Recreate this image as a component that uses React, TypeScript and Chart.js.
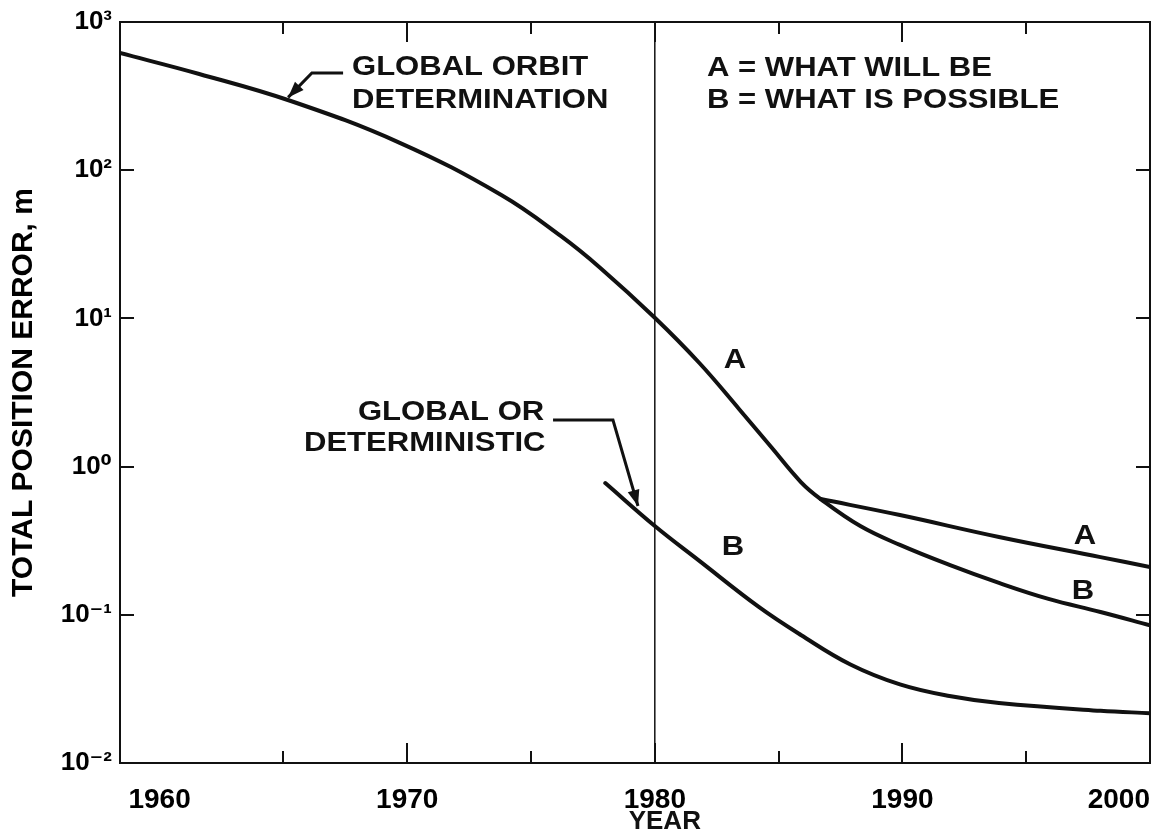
import React, { useEffect, useRef } from 'react';
import { Chart, registerables } from 'chart.js';

Chart.register(...registerables);

// ---- data ----
const yearMin = 1958.4;
const yearMax = 2000;
const xTickYears = [1960, 1965, 1970, 1975, 1980, 1985, 1990, 1995, 2000];
const xLabelYears = [1960, 1970, 1980, 1990, 2000];
const yTickValues = [0.01, 0.1, 1, 10, 100, 1000];
const yTickLabels = ['10⁻²', '10⁻¹', '10⁰', '10¹', '10²', '10³'];

// Global orbit determination (continues as curve B after the split)
const orbitYears = [1958.4, 1961.6, 1965.3, 1969.7, 1973.8, 1976.2, 1977.8, 1980, 1981.8, 1983.4, 1984.7, 1985.9, 1986.7, 1988.3, 1989.9, 1991.9, 1993.9, 1995.9, 1998, 2000];
const orbitValues = [618, 446, 293, 153, 68, 36, 21.9, 10.1, 5.0, 2.45, 1.355, 0.787, 0.604, 0.397, 0.296, 0.217, 0.164, 0.128, 0.1045, 0.085];
// Branch A (what will be)
const orbitAYears = [1986.7, 1989.9, 1993.9, 1998, 2000];
const orbitAValues = [0.604, 0.471, 0.335, 0.245, 0.21];
// Global or deterministic (B)
const detYears = [1978, 1980, 1981.8, 1984.2, 1985.9, 1987.9, 1989.9, 1991.9, 1993.9, 1998, 2000];
const detValues = [0.774, 0.397, 0.231, 0.113, 0.0731, 0.0462, 0.0339, 0.0283, 0.0254, 0.0225, 0.0217];
const markerYear = 1980;

const FONT = "'Liberation Sans', Arial, 'DejaVu Sans', sans-serif";
const INK = '#111';

const toPoints = (xs: number[], ys: number[]) => xs.map((x, i) => ({ x, y: ys[i] }));

const annotationTexts = [
  { text: 'GLOBAL ORBIT', x: 1967.77, y: 490, align: 'left' },
  { text: 'DETERMINATION', x: 1967.77, y: 293, align: 'left' },
  { text: 'A = WHAT WILL BE', x: 1982.11, y: 482, align: 'left' },
  { text: 'B = WHAT IS POSSIBLE', x: 1982.11, y: 293, align: 'left' },
  { text: 'GLOBAL OR', x: 1968.01, y: 2.33, align: 'left' },
  { text: 'DETERMINISTIC', x: 1965.83, y: 1.42, align: 'left' },
  { text: 'A', x: 1983.24, y: 5.2, align: 'center' },
  { text: 'B', x: 1983.16, y: 0.283, align: 'center' },
  { text: 'A', x: 1997.37, y: 0.335, align: 'center' },
  { text: 'B', x: 1997.29, y: 0.1426, align: 'center' },
];

const leaders = [
  [{ x: 1967.41, y: 453 }, { x: 1966.15, y: 453 }, { x: 1965.19, y: 310 }],
  [{ x: 1975.89, y: 2.06 }, { x: 1978.31, y: 2.06 }, { x: 1979.32, y: 0.542 }],
];

const framePlugin = {
  id: 'frame',
  afterDatasetsDraw(chart: any) {
    const { ctx, chartArea, scales } = chart;
    const { left, right, top, bottom } = chartArea;
    const xs = scales.x;
    const ys = scales.y;
    ctx.save();
    ctx.strokeStyle = INK;
    ctx.lineWidth = 2;
    ctx.strokeRect(left, top, right - left, bottom - top);
    ctx.beginPath();
    for (const yr of xTickYears) {
      if (yr === xTickYears[0] || yr === yearMax) continue;
      const px = Math.round(xs.getPixelForValue(yr));
      const len = yr % 10 === 0 ? 20 : 12;
      ctx.moveTo(px, bottom);
      ctx.lineTo(px, bottom - len);
      ctx.moveTo(px, top);
      ctx.lineTo(px, top + len);
    }
    for (const v of yTickValues.slice(1, -1)) {
      const py = Math.round(ys.getPixelForValue(v));
      ctx.moveTo(left, py);
      ctx.lineTo(left + 14, py);
      ctx.moveTo(right, py);
      ctx.lineTo(right - 14, py);
    }
    ctx.stroke();

    // leader arrows
    ctx.lineWidth = 3;
    ctx.fillStyle = INK;
    for (const pts of leaders) {
      const p = pts.map((q) => ({ x: xs.getPixelForValue(q.x), y: ys.getPixelForValue(q.y) }));
      ctx.beginPath();
      ctx.moveTo(p[0].x, p[0].y);
      for (let i = 1; i < p.length; i++) ctx.lineTo(p[i].x, p[i].y);
      ctx.stroke();
      const a = p[p.length - 2];
      const b = p[p.length - 1];
      const ang = Math.atan2(b.y - a.y, b.x - a.x);
      const L = 16;
      const W = 6;
      ctx.beginPath();
      ctx.moveTo(b.x, b.y);
      ctx.lineTo(b.x - L * Math.cos(ang) + W * Math.sin(ang), b.y - L * Math.sin(ang) - W * Math.cos(ang));
      ctx.lineTo(b.x - L * Math.cos(ang) - W * Math.sin(ang), b.y - L * Math.sin(ang) + W * Math.cos(ang));
      ctx.closePath();
      ctx.fill();
    }

    // text annotations
    ctx.font = `bold 27px ${FONT}`;
    ctx.textBaseline = 'middle';
    for (const t of annotationTexts) {
      const px = xs.getPixelForValue(t.x);
      const py = ys.getPixelForValue(t.y);
      ctx.save();
      ctx.translate(px, py);
      ctx.scale(1.15, 1);
      ctx.textAlign = t.align as CanvasTextAlign;
      ctx.fillText(t.text, 0, 0);
      ctx.restore();
    }

    // x axis title, centred under the 1980 label as in the original
    ctx.font = `bold 26px ${FONT}`;
    ctx.textAlign = 'center';
    ctx.textBaseline = 'middle';
    ctx.fillText('YEAR', xs.getPixelForValue(markerYear) + 10, bottom + 59);
    ctx.restore();
  },
};

export default function App() {
  const canvasRef = useRef<HTMLCanvasElement | null>(null);

  useEffect(() => {
    const canvas = canvasRef.current;
    if (!canvas) return;
    const lineStyle = {
      borderColor: INK,
      borderWidth: 4,
      pointRadius: 0,
      fill: false,
      tension: 0.4,
      borderCapStyle: 'round' as const,
    };
    const chart = new Chart(canvas, {
      type: 'line',
      data: {
        datasets: [
          { label: 'Global orbit determination', data: toPoints(orbitYears, orbitValues), ...lineStyle },
          { label: 'A = what will be', data: toPoints(orbitAYears, orbitAValues), ...lineStyle },
          { label: 'Global or deterministic', data: toPoints(detYears, detValues), ...lineStyle },
          {
            label: '1980',
            data: [
              { x: markerYear, y: yTickValues[0] },
              { x: markerYear, y: yTickValues[yTickValues.length - 1] },
            ],
            borderColor: INK,
            borderWidth: 1.5,
            pointRadius: 0,
            fill: false,
          },
        ],
      },
      options: {
        animation: false,
        responsive: true,
        maintainAspectRatio: false,
        layout: { padding: { top: 22, right: 16, bottom: 0, left: 0 } },
        plugins: { legend: { display: false }, tooltip: { enabled: false } },
        scales: {
          x: {
            type: 'linear',
            min: yearMin,
            max: yearMax,
            afterBuildTicks: (s: any) => {
              s.ticks = [{ value: yearMin }, ...xTickYears.map((v) => ({ value: v }))];
            },
            afterFit: (s: any) => {
              s.height = 71;
              s.paddingLeft = 0;
              s.paddingRight = 0;
            },
            ticks: {
              autoSkip: false,
              maxRotation: 0,
              minRotation: 0,
              align: 'inner',
              padding: 20,
              color: '#000',
              font: { family: FONT, size: 28, weight: 'bold' },
              callback: (v: any) => (xLabelYears.includes(Number(v)) ? String(v) : ''),
            },
            grid: { display: false, drawTicks: false },
            border: { display: false },
            title: { display: false, text: 'YEAR' },
          },
          y: {
            type: 'logarithmic',
            min: yTickValues[0],
            max: yTickValues[yTickValues.length - 1],
            afterBuildTicks: (s: any) => {
              s.ticks = yTickValues.map((v) => ({ value: v }));
            },
            afterFit: (s: any) => {
              s.width = 120;
              s.paddingTop = 0;
              s.paddingBottom = 0;
            },
            ticks: {
              autoSkip: false,
              padding: 8,
              color: '#000',
              font: { family: FONT, size: 26, weight: 'bold' },
              callback: (v: any) => {
                const i = yTickValues.findIndex((t) => Math.abs(t - Number(v)) < t * 1e-6);
                return i >= 0 ? yTickLabels[i] : '';
              },
            },
            grid: { display: false, drawTicks: false },
            border: { display: false },
            title: {
              display: true,
              text: 'TOTAL POSITION ERROR, m',
              color: '#000',
              font: { family: FONT, size: 30, weight: 'bold', lineHeight: 1 },
              padding: { top: 9, bottom: 0 },
            },
          },
        },
      },
      plugins: [framePlugin],
    });
    return () => chart.destroy();
  }, []);

  return (
    <div style={{ position: 'fixed', left: 0, top: 0, width: 1166, height: 834, background: '#fff' }}>
      <canvas ref={canvasRef} />
    </div>
  );
}
